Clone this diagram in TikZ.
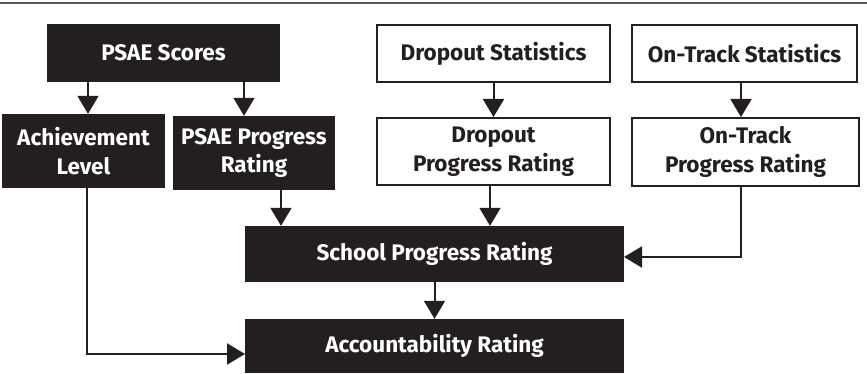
\documentclass[tikz,border=0pt]{standalone}
\usepackage{fontspec}
\setmainfont{Fira Sans}
\usetikzlibrary{arrows.meta}
\definecolor{inkblack}{HTML}{231F20}
\begin{document}
\begin{tikzpicture}[x=1pt, y=-1pt,
        every node/.style={font=\fontsize{22.5}{28.5}\selectfont\bfseries, align=center, inner sep=0pt},
        darkbox/.style={fill=inkblack, text=white},
        lightbox/.style={draw=inkblack, line width=2pt, fill=white, text=inkblack},
        feed/.style={draw=inkblack, line width=2pt, -{Triangle[length=18pt, width=21pt]}}]
    \useasboundingbox (0, 0) rectangle (867, 374);
    \draw[gray!70!black, line width=2.5pt] (0, 3) -- (867, 3);

    % inputs
    \node[darkbox, minimum width=233pt, minimum height=58pt] (scores) at (163.5, 53) {PSAE Scores};
    \node[lightbox, minimum width=233pt, minimum height=57pt] (dropstat) at (493.5, 53.5) {Dropout Statistics};
    \node[lightbox, minimum width=225pt, minimum height=57pt] (trackstat) at (744.5, 53.5) {On-Track Statistics};

    % first level ratings
    \node[darkbox, minimum width=163pt, minimum height=74pt] (achieve) at (83.5, 151) {Achievement\\Level};
    \node[darkbox, minimum width=162pt, minimum height=74pt] (psaeprog) at (254, 153) {PSAE Progress\\Rating};
    \node[lightbox, minimum width=233pt, minimum height=67pt] (dropprog) at (493.5, 151.5) {Dropout\\Progress Rating};
    \node[lightbox, minimum width=227pt, minimum height=68pt] (trackprog) at (745.5, 152) {On-Track\\Progress Rating};

    % combined ratings
    \node[darkbox, minimum width=379pt, minimum height=56pt] (school) at (434.5, 254) {School Progress Rating};
    \node[darkbox, minimum width=379pt, minimum height=54pt] (account) at (434.5, 346) {Accountability Rating};

    \coordinate (achin) at (245, 354);
    \coordinate (schin) at (624, 257);

    \draw[feed] (scores.south -| 88, 0) -- (achieve.north -| 88, 0);
    \draw[feed] (scores.south -| 244, 0) -- (psaeprog.north -| 244, 0);
    \draw[feed] (dropstat) -- (dropprog);
    \draw[feed] (trackstat.south -| 741, 0) -- (trackprog.north -| 741, 0);

    \draw[feed] (psaeprog.south -| 281, 0) -- (school.north -| 281, 0);
    \draw[feed] (dropprog.south -| 490, 0) -- (school.north -| 490, 0);
    \draw[feed] (trackprog.south -| 741, 0) |- (schin);
    \draw[feed] (school) -- (account);
    \draw[feed] (achieve.south -| 87, 0) |- (achin);
\end{tikzpicture}
\end{document}
